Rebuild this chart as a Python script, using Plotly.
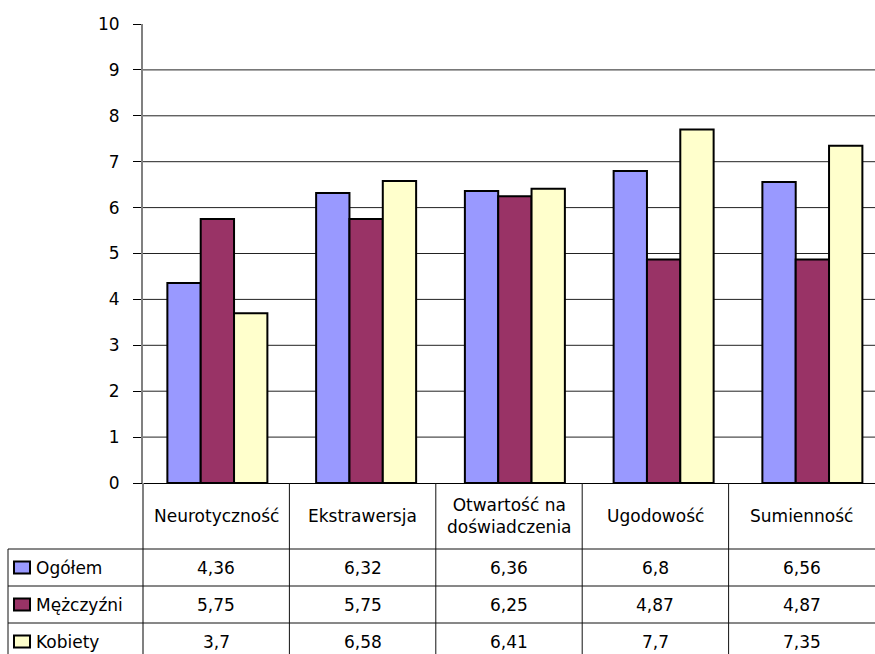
import plotly.graph_objects as go

# Big Five personality scores by group
categories = ["Neurotyczność", "Ekstrawersja", "Otwartość na doświadczenia", "Ugodowość", "Sumienność"]
series_names = ["Ogółem", "Mężczyźni", "Kobiety"]
ogolem = [4.36, 6.32, 6.36, 6.8, 6.56]
mezczyzni = [5.75, 5.75, 6.25, 4.87, 4.87]
kobiety = [3.7, 6.58, 6.41, 7.7, 7.35]
y_ticks = list(range(0, 11))

series_values = [ogolem, mezczyzni, kobiety]
colors = ["#9999FF", "#993366", "#FFFFCC"]

FONT = "DejaVu Sans"
FS = 17

# page geometry (pixels)
W, H = 875, 654
L, T, B = 143, 24, 171
PW = W - L
PH = H - T - B
GROUP_STEP = 148.75      # pixel spacing between bar groups
COL_W = PW / 5           # pixel width of a data-table column
ROW_LINES = [549, 586, 623]
HEADER_MID = 516
ROW_MIDS = [567.5, 604.5, 641.5]
TABLE_LEFT = 8


def px(x):
    return (x - L) / PW


def py(y):
    return (H - B - y) / PH


def fmt(v):
    return f"{v:g}".replace(".", ",")


def wrap(label, width=14):
    if len(label) <= width or " " not in label:
        return label
    i = label.rfind(" ")
    return label[:i] + "<br>" + label[i + 1:]


fig = go.Figure()
for name, vals, col in zip(series_names, series_values, colors):
    fig.add_trace(go.Bar(
        x=categories, y=vals, name=name,
        marker=dict(color=col, line=dict(color="black", width=2)),
        showlegend=False,
    ))

shapes = []
# horizontal gridlines
for t in y_ticks[1:-1]:
    shapes.append(dict(type="line", xref="paper", yref="y", x0=0, x1=1, y0=t, y1=t,
                       line=dict(color="#222222", width=1), layer="below"))

# data table: vertical lines
for i in range(1, 5):
    xx = L + i * COL_W
    shapes.append(dict(type="line", xref="paper", yref="paper",
                       x0=px(xx), x1=px(xx), y0=py(H - B), y1=py(H + 5),
                       line=dict(color="#111111", width=1)))
shapes.append(dict(type="line", xref="paper", yref="paper",
                   x0=0, x1=0, y0=py(H - B), y1=py(H + 5),
                   line=dict(color="#808080", width=2)))
shapes.append(dict(type="line", xref="paper", yref="paper",
                   x0=px(TABLE_LEFT), x1=px(TABLE_LEFT), y0=py(ROW_LINES[0]), y1=py(H + 5),
                   line=dict(color="#111111", width=1)))
# data table: horizontal lines
for yl in ROW_LINES:
    shapes.append(dict(type="line", xref="paper", yref="paper",
                       x0=px(TABLE_LEFT), x1=1, y0=py(yl), y1=py(yl),
                       line=dict(color="#111111", width=1)))

annotations = []
# column headers
for i, cat in enumerate(categories):
    cx = L + (i + 0.5) * COL_W
    annotations.append(dict(xref="paper", yref="paper", x=px(cx), y=py(HEADER_MID),
                            text=wrap(cat), showarrow=False, xanchor="center", yanchor="middle",
                            font=dict(family=FONT, size=FS, color="black")))
# rows: legend key, series name, values
for r, (name, vals, col) in enumerate(zip(series_names, series_values, colors)):
    ym = ROW_MIDS[r]
    shapes.append(dict(type="rect", xref="paper", yref="paper",
                       x0=px(14), x1=px(30), y0=py(ym - 6), y1=py(ym + 6),
                       fillcolor=col, line=dict(color="black", width=2)))
    annotations.append(dict(xref="paper", yref="paper", x=px(34), y=py(ym),
                            text=name, showarrow=False, xanchor="left", yanchor="middle",
                            font=dict(family=FONT, size=FS, color="black")))
    for i, v in enumerate(vals):
        cx = L + (i + 0.5) * COL_W
        annotations.append(dict(xref="paper", yref="paper", x=px(cx), y=py(ym),
                                text=fmt(v), showarrow=False, xanchor="center", yanchor="middle",
                                font=dict(family=FONT, size=FS, color="black")))

fig.update_layout(
    width=W, height=H,
    margin=dict(l=L, r=0, t=T, b=B, pad=0),
    paper_bgcolor="white", plot_bgcolor="white",
    barmode="group", bargap=1 - 100 / GROUP_STEP, bargroupgap=0,
    shapes=shapes, annotations=annotations,
    xaxis=dict(type="category", range=[-0.5, -0.5 + PW / GROUP_STEP],
               showticklabels=False, ticks="", showgrid=False, zeroline=False,
               showline=True, linecolor="black", linewidth=1),
    yaxis=dict(range=[0, 10], tickvals=y_ticks, showgrid=False, zeroline=False,
               showline=True, linecolor="#808080", linewidth=2,
               ticks="outside", ticklen=8, tickcolor="black", tickwidth=1,
               ticklabelstandoff=10,
               tickfont=dict(family=FONT, size=FS, color="black")),
    font=dict(family=FONT, size=FS, color="black"),
)

fig.write_html("out.html")
